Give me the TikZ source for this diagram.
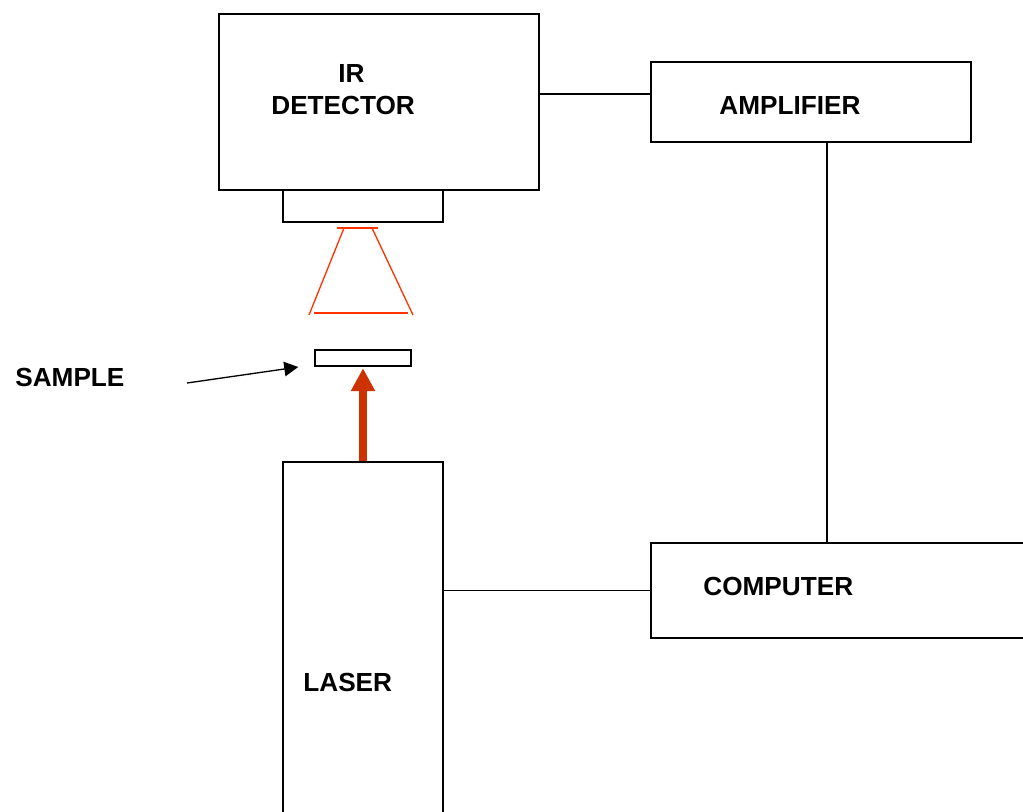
\documentclass[tikz,border=0pt]{standalone}
\usepackage{fontspec}
\setmainfont{Liberation Sans}
\usepackage{tikz}
\usetikzlibrary{
  arrows.meta,
  positioning,
  calc
}
\definecolor{beamred}{HTML}{FF3300}
\definecolor{laserred}{HTML}{CC3300}
\definecolor{darkline}{HTML}{000000}
\tikzset{
  devbox/.style={
    rectangle, draw=darkline, line width=0.85pt, fill=white,
    minimum width=#1, inner sep=0pt
  },
  tagtext/.style={
    anchor=base west, inner sep=0pt,
    font=\fontsize{14.9pt}{17pt}\selectfont\bfseries
  },
  beamline/.style={
    color=beamred, line width=0.75pt
  },
  laserarrow/.style={
    -{Triangle[length=4.6mm,width=4.6mm]}, line width=4.5pt, color=laserred
  },
  pointarrow/.style={
    -{Triangle[length=2.8mm,width=2.9mm]}, line width=0.75pt, color=darkline
  },
}
\begin{document}
\begin{tikzpicture}[x=0.02cm,y=-0.02cm]
  \useasboundingbox (0,0) rectangle (1023,811);
  \clip (0,0) rectangle (1023,811);

  %% Units
  \node[devbox=6.4cm, minimum height=3.52cm] (det) at (379,102) {};
  \node[devbox=3.2cm, minimum height=0.64cm] (win) at (363,206) {};
  \node[devbox=6.4cm, minimum height=1.6cm] (amp) at (811,102) {};
  \node[devbox=7.58cm, minimum height=1.9cm] (comp) at (840.5,590.5) {};
  \node[devbox=3.2cm, minimum height=7.36cm] (laser) at (363,646) {};
  \node[devbox=1.92cm, minimum height=0.32cm] (sample) at (363,358) {};

  %% Labels
  \node[tagtext] (irtxt) at (338,83) {IR};
  \node[tagtext] (dettxt) at (271,114) {DETECTOR};
  \node[tagtext] (amptxt) at (719,114) {AMPLIFIER};
  \node[tagtext] (comptxt) at (703,595) {COMPUTER};
  \node[tagtext] (lasertxt) at (303,691) {LASER};
  \node[tagtext] (sampletxt) at (15,386) {SAMPLE};

  %% Wiring
  \draw[line width=0.85pt] ([yshift=1.6mm]det.east) -- ([yshift=1.6mm]amp.west);
  \draw[line width=0.85pt] ([xshift=3.2mm]amp.south) -- ([xshift=3.2mm]amp.south |- comp.north);
  \draw[line width=0.85pt] (laser.east |- comp.west) -- (comp.west);

  %% Emission cone
  \draw[beamline] (337,228) -- (378,228);
  \draw[beamline] (344,228) -- (309,315);
  \draw[beamline] (372,228) -- (413,315);
  \draw[beamline] (314,313) -- (408,313);

  %% Arrows
  \coordinate (sfoot) at (187,383);
  \draw[pointarrow] (sfoot) -- ([xshift=-3.2mm,yshift=-1.8mm]sample.west);
  \draw[laserarrow] (laser.north) -- ([yshift=-0.3mm]sample.south);
\end{tikzpicture}
\end{document}
